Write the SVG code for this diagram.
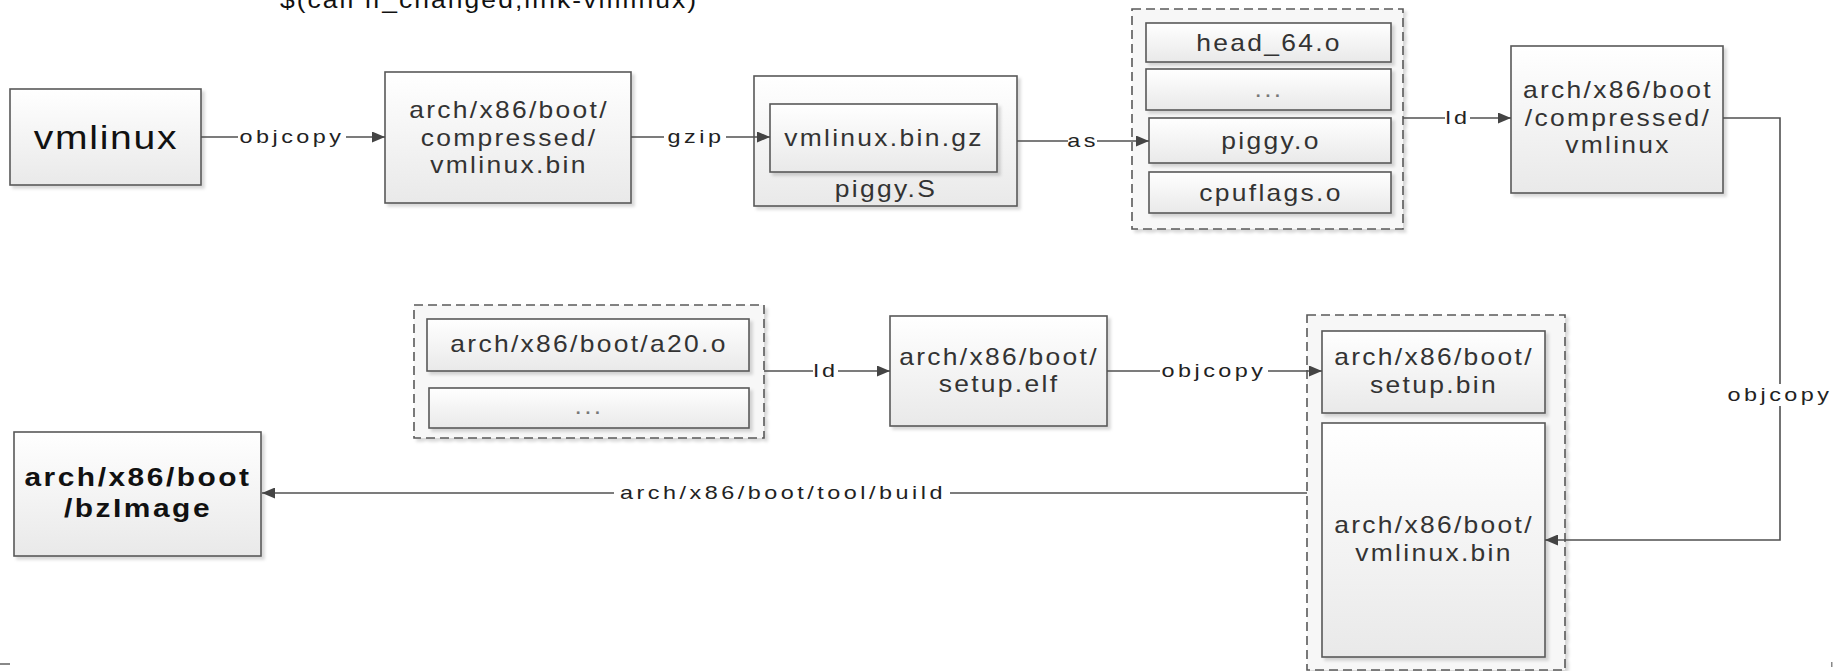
<svg xmlns="http://www.w3.org/2000/svg" width="1833" height="671" viewBox="0 0 1833 671">
<style>
.bx{fill:url(#g);stroke:#595959;stroke-width:1.6;filter:url(#sh)}
.grp{fill:#f7f7f7;stroke:#595959;stroke-width:1.6;stroke-dasharray:9 5;filter:url(#sh)}
text{transform-box:fill-box;transform-origin:center;transform:scaleX(1.15);font-family:"Liberation Sans",Arial,sans-serif;text-anchor:middle}
.t{font-size:23px;fill:#333;letter-spacing:2px}
.big{font-size:34px;fill:#111;letter-spacing:1.5px}
.bold{font-size:26px;font-weight:bold;fill:#111;letter-spacing:2.2px}
.lb{font-size:18px;fill:#222;letter-spacing:2.7px;transform:scaleX(1.3)}
.top{font-size:23px;fill:#111;letter-spacing:1.8px}
.dots{fill:#777}
.ln{fill:none;stroke:#505050;stroke-width:1.6}
.arr{marker-end:url(#ah)}
.bg{fill:#fff}
</style>
<defs>
<linearGradient id="g" x1="0" y1="0" x2="0" y2="1">
<stop offset="0" stop-color="#ffffff"/>
<stop offset="1" stop-color="#e9e9e9"/>
</linearGradient>
<filter id="sh" x="-10%" y="-10%" width="130%" height="130%">
<feDropShadow dx="3" dy="3" stdDeviation="1.5" flood-color="#000" flood-opacity="0.15"/>
</filter>
<marker id="ah" markerUnits="userSpaceOnUse" markerWidth="14" markerHeight="11" refX="13" refY="5.5" orient="auto">
<path d="M0,0 L13,5.5 L0,11 z" fill="#444"/>
</marker>
</defs>

<text class="top" x="489" y="8">$(call if_changed,link-vmlinux)</text>

<g id="vmlinux">
<rect class="bx" x="10" y="89" width="191" height="96"/>
<text class="big" x="106" y="149">vmlinux</text>
</g>

<g id="compressed-vmlinux-bin">
<rect class="bx" x="385" y="72" width="246" height="131"/>
<text class="t" x="509" y="118.5">arch/x86/boot/</text>
<text class="t" x="509" y="146">compressed/</text>
<text class="t" x="509" y="173.5">vmlinux.bin</text>
</g>

<g id="piggy-S">
<rect class="bx" x="754" y="76" width="263" height="130"/>
<text class="t" x="886" y="197">piggy.S</text>
</g>
<g id="vmlinux-bin-gz">
<rect class="bx" x="770" y="104" width="227" height="68"/>
<text class="t" x="884" y="146.5">vmlinux.bin.gz</text>
</g>

<g id="objs-group">
<rect class="grp" x="1132" y="9" width="271" height="220"/>
</g>
<g id="head_64-o">
<rect class="bx" x="1146" y="23" width="245" height="39"/>
<text class="t" x="1269" y="51">head_64.o</text>
</g>
<g id="objs-etc">
<rect class="bx" x="1146" y="69" width="245" height="41"/>
<text class="t dots" x="1269" y="97">...</text>
</g>
<g id="piggy-o">
<rect class="bx" x="1149" y="118" width="242" height="45"/>
<text class="t" x="1271" y="149">piggy.o</text>
</g>
<g id="cpuflags-o">
<rect class="bx" x="1149" y="172" width="242" height="41"/>
<text class="t" x="1271" y="201">cpuflags.o</text>
</g>

<g id="compressed-vmlinux">
<rect class="bx" x="1511" y="46" width="212" height="147"/>
<text class="t" x="1618" y="98.5">arch/x86/boot</text>
<text class="t" x="1618" y="126.5">/compressed/</text>
<text class="t" x="1618" y="153.5">vmlinux</text>
</g>

<g id="setup-objs-group">
<rect class="grp" x="414" y="305" width="350" height="133"/>
</g>
<g id="a20-o">
<rect class="bx" x="427" y="319" width="322" height="52"/>
<text class="t" x="589" y="352">arch/x86/boot/a20.o</text>
</g>
<g id="setup-objs-etc">
<rect class="bx" x="429" y="388" width="320" height="40"/>
<text class="t dots" x="589" y="414">...</text>
</g>

<g id="setup-elf">
<rect class="bx" x="890" y="316" width="217" height="110"/>
<text class="t" x="999" y="365.5">arch/x86/boot/</text>
<text class="t" x="999" y="392.5">setup.elf</text>
</g>

<g id="bin-group">
<rect class="grp" x="1307" y="315" width="258" height="355"/>
</g>
<g id="setup-bin">
<rect class="bx" x="1322" y="331" width="223" height="82"/>
<text class="t" x="1434" y="365.5">arch/x86/boot/</text>
<text class="t" x="1434" y="393.5">setup.bin</text>
</g>
<g id="vmlinux-bin">
<rect class="bx" x="1322" y="423" width="223" height="234"/>
<text class="t" x="1434" y="533.5">arch/x86/boot/</text>
<text class="t" x="1434" y="561.5">vmlinux.bin</text>
</g>

<g id="bzImage">
<rect class="bx" x="14" y="432" width="247" height="124"/>
<text class="bold" x="138" y="486.5">arch/x86/boot</text>
<text class="bold" x="138" y="517.5">/bzImage</text>
</g>

<g id="connectors">
<path class="ln arr" d="M201,137 H385"/>
<path class="ln arr" d="M631,137 H770"/>
<path class="ln arr" d="M1017,141 H1149"/>
<path class="ln arr" d="M1403,118 H1511"/>
<path class="ln arr" d="M1723,118 H1780 V540 H1545"/>
<path class="ln arr" d="M764,371 H890"/>
<path class="ln arr" d="M1107,371 H1322"/>
<path class="ln arr" d="M1307,493 H262"/>
<rect class="bg" x="238" y="127" width="108" height="20"/>
<text class="lb" x="292" y="143.5">objcopy</text>
<rect class="bg" x="664" y="127" width="62" height="20"/>
<text class="lb" x="696" y="143.5">gzip</text>
<rect class="bg" x="1068" y="131" width="29" height="20"/>
<text class="lb" x="1083" y="147.5">as</text>
<rect class="bg" x="1445" y="108" width="25" height="20"/>
<text class="lb" x="1458" y="124.5">ld</text>
<rect class="bg" x="1727" y="384" width="106" height="22"/>
<text class="lb" x="1780" y="401">objcopy</text>
<rect class="bg" x="813" y="361" width="25" height="20"/>
<text class="lb" x="826" y="377.5">ld</text>
<rect class="bg" x="1160" y="361" width="108" height="20"/>
<text class="lb" x="1214" y="377.5">objcopy</text>
<rect class="bg" x="614" y="483" width="336" height="20"/>
<text class="lb" x="783" y="499.5">arch/x86/boot/tool/build</text>
</g>

<rect x="0" y="663" width="10" height="2" fill="#888"/>
<rect x="1831" y="662" width="1.5" height="5" fill="#888"/>
</svg>
